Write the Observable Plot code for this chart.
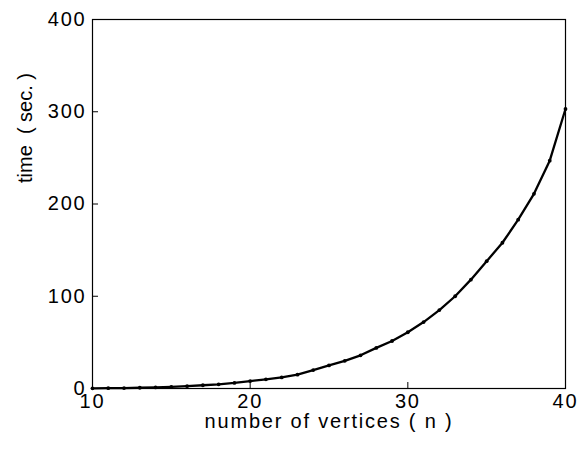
<!DOCTYPE html>
<html><head><meta charset="utf-8">
<script src="https://cdn.jsdelivr.net/npm/d3@7"></script>
<script src="https://cdn.jsdelivr.net/npm/@observablehq/plot@0.6"></script>
<style>body{margin:0;background:#fff} svg text{letter-spacing:1.8px}</style>
</head><body><div id="chart"></div>
<script>
const vertices = [10,11,12,13,14,15,16,17,18,19,20,21,22,23,24,25,26,27,28,29,30,31,32,33,34,35,36,37,38,39,40];
const times = [0.2,0.3,0.5,0.8,1.2,1.8,2.5,3.5,4.5,6,8,10,12,15,20,25,30,36,44,51.5,61,72,85,100,118,138,158,183,211,247,303];
const xTicks = [10,20,30,40];
const xInnerTicks = [20,30];
const yTicks = [0,100,200,300,400];
const yInnerTicks = [100,200,300];
const xTitle = "number of vertices ( n )";
const yTitle = "time  ( sec. )";

const data = vertices.map((n, i) => ({n, t: times[i]}));

const chart = Plot.plot({
  width: 581, height: 455,
  marginLeft: 92, marginRight: 16, marginTop: 19, marginBottom: 67,
  style: {fontFamily: "'Liberation Sans', Arial, sans-serif", fontSize: "20px", color: "black", background: "white"},
  x: {domain: [10, 40]},
  y: {domain: [0, 400]},
  marks: [
    Plot.frame({stroke: "black", strokeWidth: 1.2}),
    Plot.axisX(xTicks, {tickSize: 0, tickPadding: 5, label: null, fontSize: 20}),
    Plot.axisX(xInnerTicks, {tickSize: -6, tickFormat: () => "", label: null}),
    Plot.axisY(yTicks, {tickSize: 0, tickPadding: 6, label: null, fontSize: 20}),
    Plot.axisY(yInnerTicks, {tickSize: -6, tickFormat: () => "", label: null}),
    Plot.line(data, {x: "n", y: "t", stroke: "black", strokeWidth: 2.3}),
    Plot.dot(data, {x: "n", y: "t", r: 1.9, fill: "black"}),
    Plot.text([xTitle], {frameAnchor: "bottom", dy: 39, fontSize: 20, fill: "black"}),
    Plot.text([yTitle], {frameAnchor: "left", dx: -67, dy: -21, rotate: -90, fontSize: 20, fill: "black"})
  ]
});
d3.select(chart).selectAll("text").filter(function () { return this.textContent === yTitle; }).style("letter-spacing", "0px");
document.getElementById("chart").appendChild(chart);
</script>
</body></html>
